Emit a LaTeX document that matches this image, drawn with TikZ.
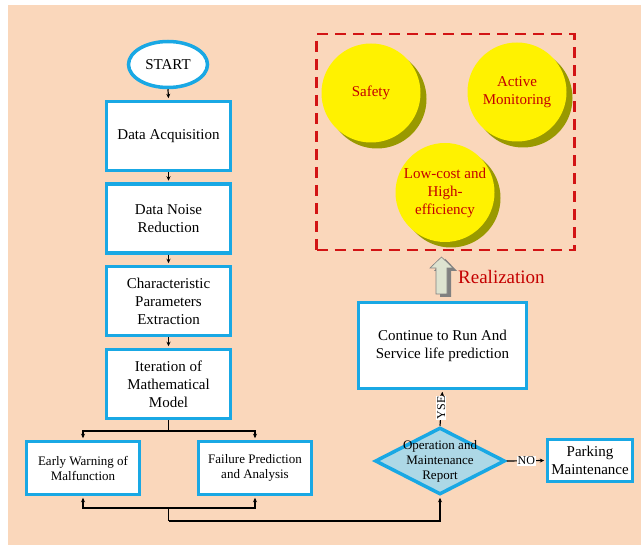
\documentclass[tikz,border=0pt]{standalone}
\usepackage{fontspec}
\setmainfont{Liberation Serif}
\usetikzlibrary{shapes.geometric,arrows.meta}
\definecolor{peach}{RGB}{250,215,187}
\definecolor{cyanb}{RGB}{25,168,228}
\definecolor{diafill}{RGB}{173,216,230}
\definecolor{olivesh}{RGB}{153,153,0}
\definecolor{darkred}{RGB}{196,0,0}
\definecolor{dashred}{RGB}{210,20,20}
\definecolor{arrfill}{RGB}{221,227,208}
\definecolor{arrside}{RGB}{128,128,128}
\begin{document}
\begin{tikzpicture}[x=1pt,y=-1pt,
  box/.style={draw=cyanb, line width=3.5pt, fill=white, inner sep=0pt, align=center,
    font=\fontsize{15}{18}\selectfont},
  smallbox/.style={box, font=\fontsize{13}{15}\selectfont},
  circ/.style={circle, fill=yellow, minimum size=99pt, inner sep=0pt, align=center,
    text=darkred, font=\fontsize{15}{18}\selectfont},
  conn/.style={draw=black, line width=1.2pt, -{Stealth[length=4.5pt,width=4pt]}, shorten >=1.5pt},
  plain/.style={draw=black, line width=1.2pt},
  lab/.style={fill=white, inner sep=1pt, font=\fontsize{12}{13}\selectfont}
]
\useasboundingbox (0,0) rectangle (641,545);
\fill[white] (0,0) rectangle (641,545);
\fill[peach] (8,5) rectangle (641,545);

% goal circles
\fill[olivesh] (377,99) circle[radius=49.5];
\fill[olivesh] (523,98) circle[radius=49.5];
\fill[olivesh] (451,198) circle[radius=49.5];
\node[circ] (safe) at (371,93) {Safety};
\node[circ] (active) at (517,92) {Active\\Monitoring};
\node[circ] (low) at (445,192.5) {Low-cost and\\High-\\efficiency};
\node[draw=dashred, dash pattern=on 11pt off 7pt, line width=2.5pt, minimum width=257.6pt,
  minimum height=216pt, inner sep=0pt] (goal) at (445.5,142) {};

% realization arrow
\fill[arrside] (445.5,259) -- (457,271) -- (451,271) -- (451,297) -- (440,297) -- (440,271) -- (434,271) -- cycle;
\filldraw[fill=arrfill, draw=arrside, line width=0.6pt] (441.5,257) -- (453,268) -- (447,268) -- (447,294) -- (436,294) -- (436,268) -- (430,268) -- cycle;
\node[text=darkred, font=\fontsize{19}{22}\selectfont, anchor=west, inner sep=0pt] (real) at (458,277.5) {Realization};

% left column
\node[ellipse, draw=cyanb, line width=3.5pt, fill=white, minimum width=79pt, minimum height=46pt,
  inner sep=0pt, font=\fontsize{15}{18}\selectfont] (start) at (168,64.5) {START};
\node[box, minimum width=124pt, minimum height=69pt] (acq) at (168.5,136) {Data Acquisition};
\node[box, minimum width=124pt, minimum height=69pt] (noise) at (168.5,218.5) {Data Noise\\Reduction};
\node[box, minimum width=124pt, minimum height=69pt] (char) at (168.5,301) {Characteristic\\Parameters\\Extraction};
\node[box, minimum width=124pt, minimum height=69pt] (iter) at (168.5,384) {Iteration of\\Mathematical\\Model};
\node[smallbox, minimum width=113pt, minimum height=53pt] (early) at (83,468) {Early Warning of\\Malfunction};
\node[smallbox, minimum width=113pt, minimum height=53pt] (fail) at (255,468) {Failure Prediction\\and Analysis};

% right part
\node[box, minimum width=168pt, minimum height=86pt] (cont) at (442.5,345.5) {Continue to Run And\\Service life prediction};
\node[diamond, draw=cyanb, line width=3.5pt, fill=diafill, minimum width=130pt, minimum height=67pt,
  inner sep=0pt] (dia) at (440,461) {};
\node[align=center, inner sep=0pt, font=\fontsize{13}{15}\selectfont] (diat) at (dia.center) {Operation and\\Maintenance\\Report};
\node[box, minimum width=85pt, minimum height=42pt] (park) at (590,460.5) {Parking\\Maintenance};

% connectors
\draw[conn] (start.south) -- (acq.north);
\draw[conn] (acq.south) -- (noise.north);
\draw[conn] (noise.south) -- (char.north);
\draw[conn] (char.south) -- (iter.north);
\coordinate (br) at (168.5,431);
\draw[plain] (iter.south) -- (br);
\draw[conn] (br) -| (early.north);
\draw[conn] (br) -| (fail.north);
\coordinate (bt) at (168.5,508);
\coordinate (bb) at (168.5,521);
\draw[conn] (bt) -| (early.south);
\draw[conn] (bt) -| (fail.south);
\draw[plain] (bt) -- (bb);
\draw[conn] (bb) -| (dia.south);
\draw[conn] (dia.north) -- node[lab, rotate=90] (yse) {YSE} (cont.south);
\draw[conn] (dia.east) -- node[lab] (no) {NO} (park.west);
\end{tikzpicture}
\end{document}
